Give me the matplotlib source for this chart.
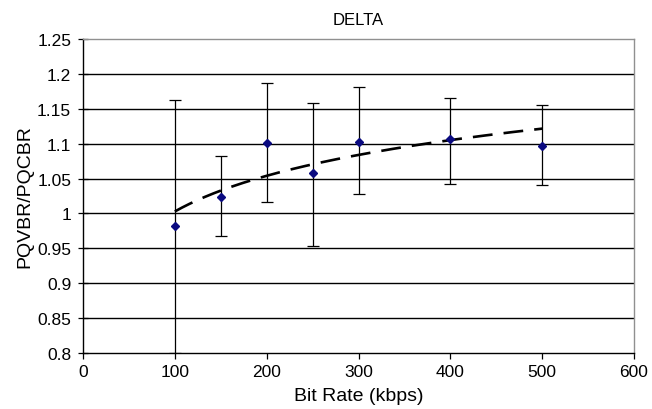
import matplotlib
matplotlib.use("Agg")
import matplotlib.pyplot as plt
import numpy as np

plt.rcParams['font.family'] = ['Liberation Sans', 'DejaVu Sans']

# Mean PQ ratio per bit rate, with the extent of each error bar
bit_rate = np.array([100, 150, 200, 250, 300, 400, 500])
pq_ratio = np.array([0.9825, 1.023, 1.101, 1.058, 1.103, 1.106, 1.097])
err_top = np.array([1.163, 1.083, 1.187, 1.159, 1.181, 1.166, 1.155])
err_bottom = np.array([0.800, 0.967, 1.016, 0.954, 1.028, 1.042, 1.041])

x_ticks = [0, 100, 200, 300, 400, 500, 600]
y_ticks = [0.8, 0.85, 0.9, 0.95, 1, 1.05, 1.1, 1.15, 1.2, 1.25]
y_tick_labels = ["0.8", "0.85", "0.9", "0.95", "1", "1.05", "1.1", "1.15", "1.2", "1.25"]

fig = plt.figure(figsize=(6.52, 4.10), dpi=100)
ax = fig.add_axes([0.1273, 0.1366, 0.8451, 0.7658])

# horizontal gridlines
for y in y_ticks[1:-1]:
    ax.axhline(y, color="black", lw=1.0, zorder=1)

yerr = np.vstack([pq_ratio - err_bottom, err_top - pq_ratio])
ax.errorbar(bit_rate, pq_ratio, yerr=yerr, fmt="none", ecolor="black",
            elinewidth=0.9, capsize=4, capthick=0.9, zorder=2)

# logarithmic trendline
b, a = np.polyfit(np.log(bit_rate), pq_ratio, 1)
xs = np.linspace(bit_rate[0], bit_rate[-1], 200)
trend, = ax.plot(xs, a + b * np.log(xs), color="black", lw=1.9, zorder=3)
trend.set_dashes((7.5, 4.2))

ax.plot(bit_rate, pq_ratio, linestyle="none", marker="D", markersize=4.5,
        color="#0a0a80", zorder=4)

ax.set_xlim(0, 600)
ax.set_ylim(0.8, 1.25)
ax.set_xticks(x_ticks)
ax.set_yticks(y_ticks)
ax.set_yticklabels(y_tick_labels)
ax.tick_params(axis="x", labelsize=12.5, length=4, width=0.9, color="black", pad=4)
ax.tick_params(axis="y", labelsize=12.5, length=7, width=0.9, color="black",
               direction="inout", pad=5)

ax.spines['left'].set_color("black")
ax.spines['bottom'].set_color("black")
ax.spines['top'].set_color("#909090")
ax.spines['right'].set_color("#909090")
for s in ax.spines.values():
    s.set_linewidth(1.0)

ax.set_xlabel("Bit Rate (kbps)", fontsize=14, labelpad=6)
ax.set_ylabel("PQVBR/PQCBR", fontsize=14, labelpad=3)
ax.set_title("DELTA", fontsize=12, pad=11)

fig.savefig("out.png", dpi=100)
